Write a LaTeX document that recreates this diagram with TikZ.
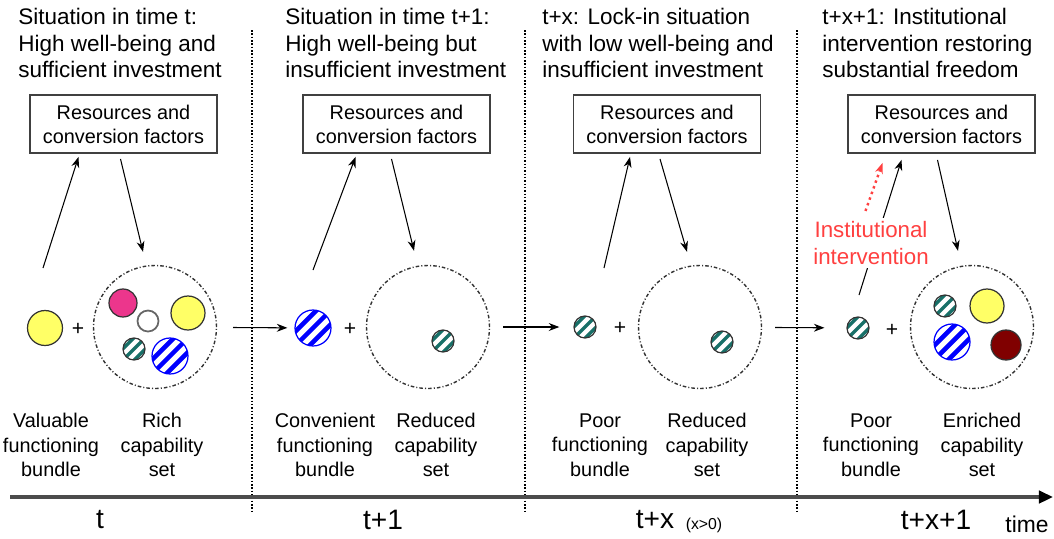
\documentclass[tikz,border=0pt]{standalone}
\usepackage{fontspec}
\setmainfont{Liberation Sans}
\usetikzlibrary{arrows.meta,calc}

\definecolor{ballyellow}{RGB}{255,255,102}
\definecolor{ballpink}{RGB}{236,54,140}
\definecolor{balldarkred}{RGB}{128,0,0}
\definecolor{ballteal}{RGB}{24,112,104}
\definecolor{ballblue}{RGB}{0,0,255}
\definecolor{intred}{RGB}{255,64,64}

\tikzset{
  heading/.style={anchor=north west, inner sep=0pt, align=left,
    font=\fontsize{12.8}{15.1}\selectfont},
  resbox/.style={draw=black!75, line width=1.1pt, minimum width=3.74cm,
    minimum height=1.16cm, inner sep=0pt, align=center,
    font=\fontsize{11.3}{13.6}\selectfont},
  lbl/.style={align=center, inner sep=0pt,
    font=\fontsize{11.3}{13.9}\selectfont},
  setring/.style={circle, draw=black!80, line width=0.8pt,
    dash pattern=on 2pt off 1.2pt on 0.6pt off 1.2pt, minimum size=2.46cm},
  ball/.style={circle, draw=black!80, line width=0.7pt, inner sep=0pt},
  bluestripes/.style={ball, draw=ballblue, fill=white, minimum size=0.72cm,
    path picture={\foreach \s in {-2,...,2}
      \draw[ballblue, line width=2.6pt]
        ([xshift={\s*8pt-12pt}, yshift=-12pt]path picture bounding box.center)
        -- ++(24pt,24pt);}},
  tealstripes/.style={ball, fill=white, minimum size=0.44cm,
    path picture={\foreach \s in {-1,0,1}
      \draw[ballteal, line width=1.9pt]
        ([xshift={\s*6.4pt-8pt}, yshift=-8pt]path picture bounding box.center)
        -- ++(16pt,16pt);}},
  plus/.style={inner sep=0pt, font=\fontsize{12}{12}\selectfont},
  arr/.style={-{Stealth[length=6pt,width=4.5pt]}, line width=0.6pt},
  intarr/.style={-{Stealth[length=6pt,width=4.5pt]}, intred, dotted,
    line width=1.4pt},
  divider/.style={densely dotted, line width=0.9pt},
  axislbl/.style={inner sep=0pt, font=\fontsize{16}{16}\selectfont},
}

\begin{document}
\begin{tikzpicture}[x=0.02cm, y=-0.02cm]
  \useasboundingbox (0,0) rectangle (1054,538);

  %% panel dividers
  \foreach \x in {252,525,797} {
    \draw[divider] (\x,30) -- (\x,512); }

  %% headings
  \node[heading] (headA) at (18,8)
    {Situation in time t:\\High well-being and\\sufficient investment};
  \node[heading] (headB) at (285,8)
    {Situation in time t+1:\\High well-being but\\insufficient investment};
  \node[heading] (headC) at (542,8)
    {t+x: Lock-in situation\\with low well-being and\\insufficient investment};
  \node[heading] (headD) at (822,8)
    {t+x+1: Institutional\\intervention restoring\\substantial freedom};

  %% resources boxes
  \foreach \n/\x in {A/123.5,B/396.5,C/667,D/941.5} {
    \node[resbox] (box\n) at (\x,124) {Resources and\\conversion factors}; }

  %% panel t
  \node[ball, fill=ballyellow, minimum size=0.7cm] (fbA) at (45,328) {};
  \node[plus] (plusA) at (78,329) {+};
  \node[setring] (csA) at (155,327) {};
  \node[ball, fill=ballpink, minimum size=0.56cm] (pinkA) at (123,303) {};
  \node[ball, draw=black!60, line width=1pt, fill=white,
        minimum size=0.42cm] (whiteA) at (148,321) {};
  \node[ball, fill=ballyellow, minimum size=0.68cm] (yellowA) at (188,313) {};
  \node[tealstripes] (tealA) at (134,349) {};
  \node[bluestripes] (blueA) at (170,356) {};

  %% panel t+1
  \node[bluestripes] (fbB) at (313,328) {};
  \node[plus] (plusB) at (350,329) {+};
  \node[setring] (csB) at (428,327) {};
  \node[tealstripes] (tealB) at (443,341) {};

  %% panel t+x
  \node[tealstripes] (fbC) at (585,327) {};
  \node[plus] (plusC) at (620,328) {+};
  \node[setring] (csC) at (700,327) {};
  \node[tealstripes] (tealC) at (722,342) {};

  %% panel t+x+1
  \node[tealstripes] (fbD) at (858,328) {};
  \node[plus] (plusD) at (892,330) {+};
  \node[setring] (csD) at (972,327) {};
  \node[tealstripes] (tealD) at (945,306) {};
  \node[ball, fill=ballyellow, minimum size=0.68cm] (yellowD) at (987,306) {};
  \node[bluestripes] (blueD) at (952,342) {};
  \node[ball, fill=balldarkred, minimum size=0.6cm] (redD) at (1006,345) {};

  %% arrows to and from the boxes
  \draw[arr] ($(fbA)+(-2,-60)$) -- ($(boxA.south)+(-45,3)$);
  \draw[arr] ($(boxA.south)+(-3,5)$) -- ($(csA.north)+(-12,-13)$);
  \draw[arr] ($(fbB)+(0,-58)$) -- ($(boxB.south)+(-41,3)$);
  \draw[arr] ($(boxB.south)+(-5,5)$) -- ($(csB.north)+(-14,-14)$);
  \draw[arr] ($(fbC)+(19,-59)$) -- ($(boxC.south)+(-37,3)$);
  \draw[arr] ($(boxC.south)+(-7,5)$) -- ($(csC.north)+(-13,-13)$);
  \draw[arr] ($(fbD)+(1,-33)$) -- ($(boxD.south)+(-40,6)$);
  \draw[arr] ($(boxD.south)+(-4,6)$) -- ($(csD.north)+(-14,-14)$);
  \draw[intarr] ($(boxD.south)+(-76,57)$) -- ($(boxD.south)+(-59,9)$);
  \node[fill=white, inner sep=2pt, align=center, text=intred,
        font=\fontsize{12.7}{15.5}\selectfont] (intv) at (871,243)
    {Institutional\\intervention};

  %% from one period to the next
  \draw[arr, shorten <=9pt, shorten >=4pt] (csA) -- (fbB);
  \draw[arr, shorten <=7.4pt, shorten >=8pt] (csB) -- (fbC);
  \draw[arr, shorten <=7.4pt, shorten >=12.5pt] (csC) -- (fbD);

  %% captions
  \node[lbl] (txtfbA) at (51,445) {Valuable\\functioning\\bundle};
  \node[lbl] (txtcsA) at (162,445) {Rich\\capability\\set};
  \node[lbl] (txtfbB) at (325,445) {Convenient\\functioning\\bundle};
  \node[lbl] (txtcsB) at (436,445) {Reduced\\capability\\set};
  \node[lbl] (txtfbC) at (600,445) {Poor\\functioning\\bundle};
  \node[lbl] (txtcsC) at (707,445) {Reduced\\capability\\set};
  \node[lbl] (txtfbD) at (871,445) {Poor\\functioning\\bundle};
  \node[lbl] (txtcsD) at (982,445) {Enriched\\capability\\set};

  %% time axis
  \coordinate (axstart) at (10,497);
  \coordinate (axend) at (1053,497);
  \draw[line width=2pt, black!70, -{Triangle[length=8pt,width=7pt,color=black]}]
    (axstart) -- (axend);
  \node[axislbl] (tA) at (100,520) {t};
  \node[axislbl] (tB) at (383,520) {t+1};
  \node[axislbl] (tC) at (655,520) {t+x};
  \node[inner sep=0pt, font=\fontsize{9}{9}\selectfont] (tCx) at (704,525) {(x>0)};
  \node[axislbl] (tD) at (936,520) {t+x+1};
  \node[inner sep=0pt, font=\fontsize{13}{13}\selectfont] (time) at (1027,524) {time};
\end{tikzpicture}
\end{document}
